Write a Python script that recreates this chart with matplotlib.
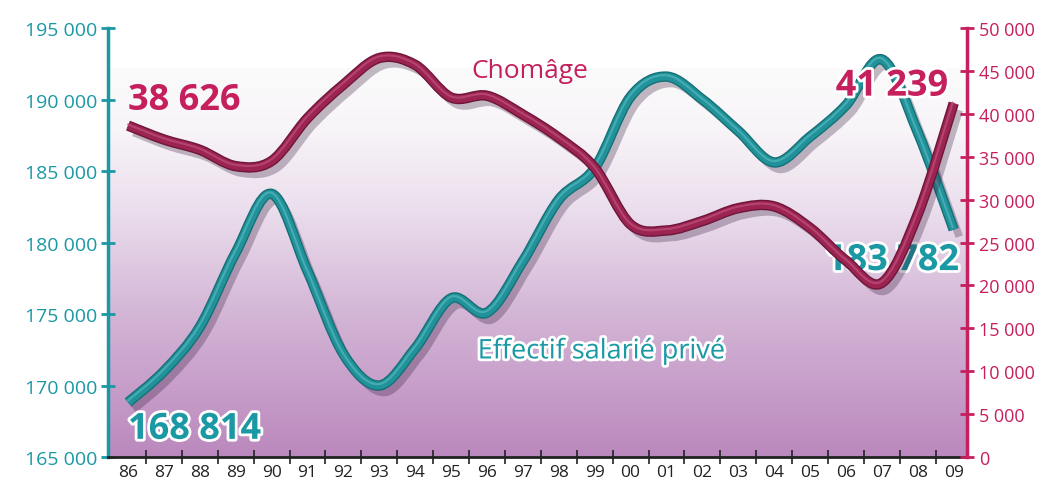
import matplotlib.pyplot as plt
import matplotlib.patheffects as pe
import numpy as np
from matplotlib.path import Path
from matplotlib.patches import PathPatch
from matplotlib.colors import LinearSegmentedColormap
from matplotlib.ticker import FuncFormatter

# data
years = ['86', '87', '88', '89', '90', '91', '92', '93', '94', '95', '96', '97',
         '98', '99', '00', '01', '02', '03', '04', '05', '06', '07', '08', '09']
effectif = [168814, 171000, 174100, 179300, 183400, 178000, 172200, 170000,
            172600, 176100, 175100, 178700, 183000, 185200, 190200, 191600,
            190000, 187800, 185600, 187400, 189600, 192800, 187700, 180900]
chomage = [38626, 37000, 35800, 33900, 34500, 39500, 43400, 46500, 45700,
           41900, 42100, 39900, 37200, 33700, 27100, 26400, 27500, 29000,
           29200, 26700, 22900, 20300, 28300, 41239]

TEAL = '#1a98a3'
TEAL_LINE = '#22929a'
CRIMSON = '#c51f5d'
CRIMSON_LINE = '#9c2453'


def smooth_path(xs, ys):
    # catmull-rom curve turned into cubic bezier segments
    pts = np.column_stack([xs, ys]).astype(float)
    verts = [pts[0]]
    codes = [Path.MOVETO]
    n = len(pts)
    for i in range(n - 1):
        p0 = pts[max(i - 1, 0)]
        p1 = pts[i]
        p2 = pts[i + 1]
        p3 = pts[min(i + 2, n - 1)]
        verts += [p1 + (p2 - p0) / 6, p2 - (p3 - p1) / 6, p2]
        codes += [Path.CURVE4] * 3
    return Path(verts, codes)


def fmt(v, pos):
    return '{:,}'.format(int(v)).replace(',', ' ')


plt.rcParams['font.family'] = ['Open Sans', 'DejaVu Sans']

fig = plt.figure(figsize=(10.48, 4.81), dpi=100)
ax = fig.add_axes([0.1031, 0.0478, 0.8196, 0.8919])
ax2 = ax.twinx()

x = np.arange(len(years))
ax.set_xlim(-0.557, 23.37)
ax.set_ylim(165000, 195000)
ax2.set_ylim(0, 50000)

# background gradient
cmap = LinearSegmentedColormap.from_list(
    'bg', [(0, '#bb88bd'), (0.35, '#d2b3d5'), (0.65, '#ece0ee'), (0.85, '#f8f5f8'), (1, '#fbfbfb')])
grad = np.linspace(0, 1, 256).reshape(-1, 1)
ax.imshow(grad, cmap=cmap, aspect='auto', origin='lower', extent=[0, 1, 0, 0.905],
          transform=ax.transAxes, zorder=0)

# lines
line_styles = [
    (ax, effectif, TEAL_LINE, '#146f76', '#4fb3b9'),
    (ax2, chomage, CRIMSON_LINE, '#6e1538', '#bb4c77'),
]
for axis, vals, col, dark, light in line_styles:
    patch = PathPatch(smooth_path(x, vals), fill=False, edgecolor=col, lw=5.5,
                      capstyle='butt', joinstyle='round', transform=axis.transData, zorder=3)
    patch.set_path_effects([
        pe.SimpleLineShadow(offset=(4, -5), shadow_color='#3a2040', alpha=0.3),
        pe.Stroke(linewidth=7.5, foreground=dark),
        pe.Normal(),
        pe.Stroke(linewidth=1.5, foreground=light, offset=(-0.5, 1), alpha=0.8),
    ])
    axis.add_patch(patch)

# spines and ticks
ax.spines['top'].set_visible(False)
ax2.spines['top'].set_visible(False)
ax2.spines['left'].set_visible(False)
ax2.spines['bottom'].set_visible(False)
ax.spines['right'].set_visible(False)
ax.spines['left'].set_color(TEAL)
ax.spines['left'].set_linewidth(2.5)
ax2.spines['right'].set_color(CRIMSON)
ax2.spines['right'].set_linewidth(2.5)
ax.spines['bottom'].set_color('#222222')
ax.spines['bottom'].set_linewidth(2)

ax.set_yticks(np.arange(165000, 195001, 5000))
ax.yaxis.set_major_formatter(FuncFormatter(fmt))
ax.tick_params(axis='y', direction='inout', length=10, width=2, color=TEAL,
               labelcolor=TEAL, labelsize=14, pad=3)
ax2.set_yticks(np.arange(0, 50001, 5000))
ax2.yaxis.set_major_formatter(FuncFormatter(fmt))
ax2.tick_params(axis='y', direction='inout', length=10, width=2, color=CRIMSON,
                labelcolor=CRIMSON, labelsize=13, pad=4)

ax.set_xticks(x)
ax.set_xticklabels(years)
ax.set_xticks(x[:-1] + 0.5, minor=True)
ax.tick_params(axis='x', which='major', length=0, labelsize=12.5, labelcolor='#222222', pad=5)
ax.tick_params(axis='x', which='minor', direction='inout', length=10, width=1.2, color='#222222')

# annotations
glow = [pe.withStroke(linewidth=4, foreground='white')]
ax.text(0, 190000, '38 626', color=CRIMSON, fontsize=26, fontweight='bold',
        ha='left', va='center', zorder=5)
ax.text(0, 166900, '168 814', color=TEAL, fontsize=26, fontweight='bold',
        ha='left', va='center', zorder=5, path_effects=glow)
ax.text(22.85, 190900, '41 239', color=CRIMSON, fontsize=26, fontweight='bold',
        ha='right', va='center', zorder=5, path_effects=glow)
ax.text(23.15, 178700, '183 782', color=TEAL, fontsize=26, fontweight='bold',
        ha='right', va='center', zorder=5, path_effects=glow)
ax.text(11.2, 192000, 'Chomâge', color=CRIMSON, fontsize=19, ha='center', va='center', zorder=5)
ax.text(13.2, 172400, 'Effectif salarié privé', color=TEAL, fontsize=19.5,
        ha='center', va='center', zorder=5, path_effects=glow)

fig.savefig('out.png', dpi=100)
